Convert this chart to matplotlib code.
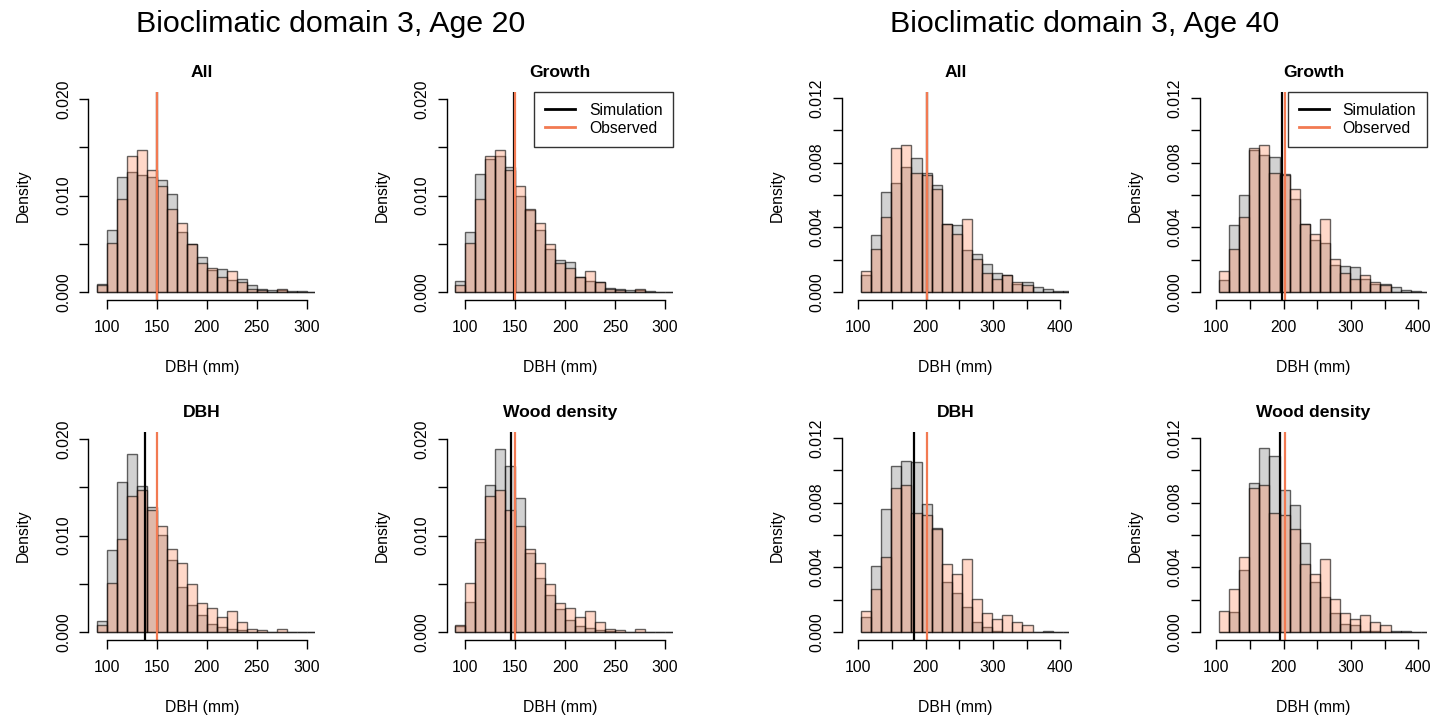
import numpy as np
import matplotlib
matplotlib.use("Agg")
from matplotlib import pyplot as plt

plt.rcParams['font.family'] = ['Liberation Sans', 'DejaVu Sans']

# bins (mm)
edges20 = np.arange(90, 321, 10)          # 23 bins, 90..320
edges40 = np.arange(104, 420, 15)         # 21 bins, 104..419

# densities, in units of 1e-3
obs20 = [0.66, 5.06, 9.63, 14.13, 14.69, 12.70, 10.96, 8.60, 7.14, 4.92, 2.97, 2.46,
         1.54, 2.11, 1.04, 0.31, 0.20, 0.00, 0.28, 0.00, 0.00, 0.00, 0.00]
sim20_all = [0.76, 6.38, 11.92, 12.44, 12.19, 11.88, 11.67, 10.19, 6.25, 4.99, 3.58, 2.25,
             2.36, 1.23, 1.33, 0.66, 0.28, 0.13, 0.15, 0.10, 0.05, 0.00, 0.00]
sim20_growth = [1.08, 6.25, 12.29, 13.82, 14.13, 12.95, 9.98, 8.50, 6.45, 4.47, 3.33, 3.07,
                1.54, 1.13, 1.02, 0.38, 0.31, 0.13, 0.20, 0.05, 0.00, 0.00, 0.00]
sim20_dbh = [1.13, 8.50, 15.56, 18.43, 15.16, 12.95, 10.09, 7.48, 4.61, 2.81, 1.74, 0.82,
             0.48, 0.28, 0.14, 0.00, 0.00, 0.00, 0.00, 0.00, 0.00, 0.00, 0.00]
sim20_wood = [0.61, 3.05, 9.29, 15.22, 19.05, 17.20, 13.93, 8.19, 5.58, 3.85, 2.36, 1.23,
              0.55, 0.38, 0.20, 0.10, 0.00, 0.00, 0.00, 0.00, 0.00, 0.00, 0.00]

obs40 = [1.27, 2.68, 4.65, 8.90, 9.09, 7.36, 7.22, 6.40, 4.22, 3.60, 4.52, 2.04,
         1.18, 0.83, 1.06, 0.64, 0.43, 0.00, 0.00, 0.00, 0.00]
sim40_all = [1.06, 3.55, 6.20, 6.76, 7.76, 8.28, 7.34, 6.60, 4.23, 4.13, 2.57, 2.37,
             1.72, 1.16, 1.04, 0.46, 0.62, 0.29, 0.17, 0.08, 0.03]
sim40_growth = [0.75, 4.13, 6.00, 8.78, 8.46, 8.38, 7.30, 5.73, 4.23, 3.20, 3.03, 1.68,
                1.58, 1.54, 0.79, 0.46, 0.46, 0.29, 0.12, 0.04, 0.00]
sim40_dbh = [0.91, 4.07, 7.63, 10.30, 10.60, 10.54, 7.90, 6.45, 3.10, 2.40, 1.54, 0.60,
             0.29, 0.04, 0.00, 0.00, 0.00, 0.00, 0.06, 0.00, 0.00]
sim40_wood = [0.00, 1.22, 3.86, 9.25, 11.40, 10.90, 8.78, 7.86, 5.52, 3.07, 2.16, 1.16,
              0.50, 0.40, 0.08, 0.08, 0.00, 0.04, 0.08, 0.00, 0.00]

# mean lines (mm)
obs_mean20 = 150.0
sim_means20 = [150.0, 148.5, 138.3, 145.8]
obs_mean40 = 202.5
sim_means40 = [202.5, 198.2, 182.9, 195.3]

titles = ["All", "Growth", "DBH", "Wood density"]

W, H = 1438, 726
fig = plt.figure(figsize=(W / 100, H / 100), dpi=100)

SIM_COL = (0.5, 0.5, 0.5, 0.35)
OBS_COL = (1.0, 0.5, 0.31, 0.3)
EDGE = (0, 0, 0, 0.6)
OBS_LINE = '#F27A52'
FS = 11.3


def panel(left, top, width, height, edges, sim, obs, sim_mean, obs_mean, title,
          xlim, ylim, xticks, xlabels, yticks, ylabels, legend=False):
    ax = fig.add_axes([left / W, 1 - (top + height) / H, width / W, height / H])
    w = edges[1] - edges[0]
    ax.bar(edges[:-1], np.array(sim) * 1e-3, width=w, align='edge',
           color=SIM_COL, edgecolor=EDGE, linewidth=1.0)
    ax.bar(edges[:-1], np.array(obs) * 1e-3, width=w, align='edge',
           color=OBS_COL, edgecolor=EDGE, linewidth=1.0)
    ax.axvline(sim_mean, color='black', lw=1.6, label='Simulation')
    ax.axvline(obs_mean, color=OBS_LINE, lw=1.6, label='Observed')
    ax.set_xlim(xlim)
    ax.set_ylim(ylim)
    for s in ['top', 'right']:
        ax.spines[s].set_visible(False)
    ax.spines['left'].set_bounds(yticks[0], yticks[-1])
    ax.spines['bottom'].set_bounds(xticks[0], xticks[-1])
    for s in ['left', 'bottom']:
        ax.spines[s].set_linewidth(1.0)
    ax.set_xticks(xticks)
    ax.set_xticklabels(xlabels, fontsize=FS)
    ax.set_yticks(yticks)
    ax.set_yticklabels(ylabels, fontsize=FS, rotation=90, va='center')
    ax.tick_params(axis='x', length=6.3, width=1.0, pad=8)
    ax.tick_params(axis='y', length=6.3, width=1.0, pad=6)
    ax.set_xlabel("DBH (mm)", fontsize=FS)
    ax.xaxis.label.set_va('center')
    ax.xaxis.set_label_coords(0.5, -0.323)
    ax.set_ylabel("Density", fontsize=FS)
    ax.yaxis.label.set_va('center')
    ax.yaxis.set_label_coords(-0.285, 0.5)
    ax.text(0.5, 1.09, title, transform=ax.transAxes, ha='center', va='center',
            fontsize=12.6, fontweight='bold')
    if legend:
        leg = ax.legend(loc='upper right', bbox_to_anchor=(1, 1), borderaxespad=0,
                        fontsize=FS, fancybox=False, handlelength=1.9,
                        handletextpad=0.9, borderpad=0.7, labelspacing=0.2)
        leg.get_frame().set_edgecolor('black')
        leg.get_frame().set_linewidth(1.0)
        for ln in leg.get_lines():
            ln.set_linewidth(2.0)
    return ax


sims20 = [sim20_all, sim20_growth, sim20_dbh, sim20_wood]
sims40 = [sim40_all, sim40_growth, sim40_dbh, sim40_wood]

yt20 = [0, 0.005, 0.010, 0.015, 0.020]
yl20 = ["0.000", "", "0.010", "", "0.020"]
xt20 = [100, 150, 200, 250, 300]
xl20 = ["100", "150", "200", "250", "300"]
yt40 = [0, 0.002, 0.004, 0.006, 0.008, 0.010, 0.012]
yl40 = ["0.000", "", "0.004", "", "0.008", "", "0.012"]
xt40 = [100, 150, 200, 250, 300, 350, 400]
xl40 = ["100", "", "200", "", "300", "", "400"]

lefts20 = [88.3, 446.6]
lefts40 = [841.7, 1199.7]
tops = [91.7, 431.7]
h = 208.3

for i in range(4):
    r, c = divmod(i, 2)
    panel(lefts20[c], tops[r], 226.8, h, edges20, sims20[i], obs20,
          sim_means20[i], obs_mean20, titles[i], (81.6, 308.4), (-0.00086, 0.0208),
          xt20, xl20, yt20, yl20, legend=(i == 1))
    panel(lefts40[c], tops[r], 227.6, h, edges40, sims40[i], obs40,
          sim_means40[i], obs_mean40, titles[i], (75.3, 413.6), (-0.0005, 0.0124),
          xt40, xl40, yt40, yl40, legend=(i == 1))

fig.text(331 / W, 1 - 32 / H, "Bioclimatic domain 3, Age 20", ha='center',
         va='baseline', fontsize=21.9)
fig.text(1085 / W, 1 - 32 / H, "Bioclimatic domain 3, Age 40", ha='center',
         va='baseline', fontsize=21.9)

fig.savefig("out.png", dpi=100)
